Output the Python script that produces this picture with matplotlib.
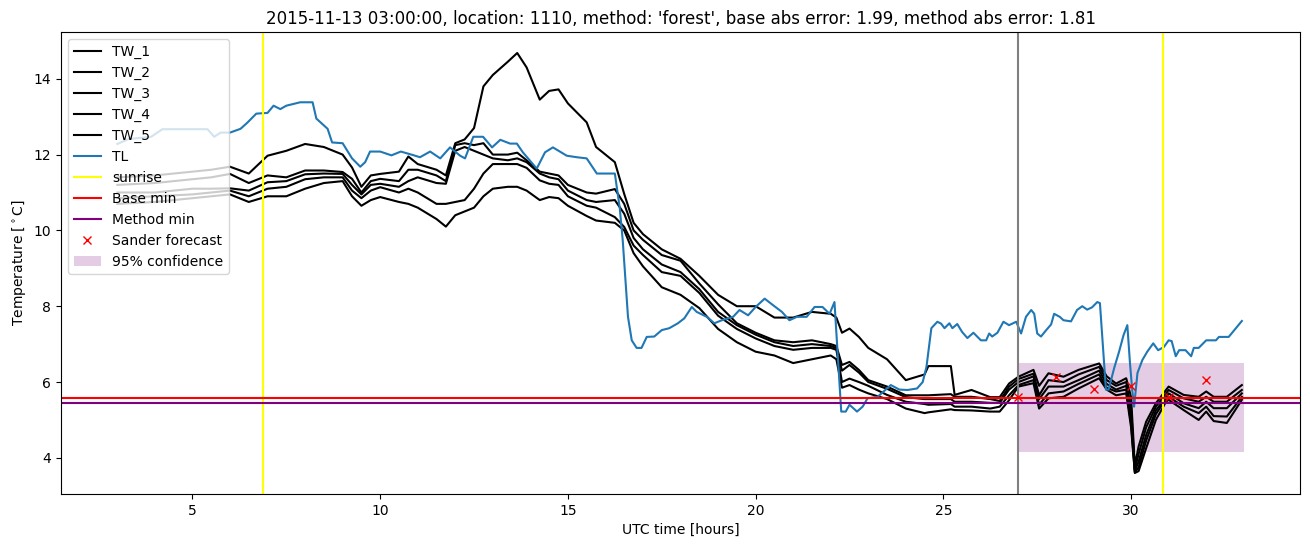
import numpy as np
import matplotlib
matplotlib.use('Agg')
import matplotlib.pyplot as plt

tw_hours = [3.0, 4.0, 5.0, 5.5, 6.0, 6.5, 7.0, 7.5, 8.0, 8.5, 9.0, 9.25, 9.5, 9.75,
            10.0, 10.5, 10.75, 11.0, 11.5, 11.75, 12.0, 12.25, 12.5, 12.75, 13.0,
            13.4, 13.65, 13.9, 14.25, 14.5, 14.75, 15.0, 15.5, 15.75, 16.25, 16.5,
            16.75, 17.0, 17.5, 18.0, 18.5, 19.0, 19.5, 20.0, 20.5, 21.0, 21.5, 22.0,
            22.15, 22.3, 22.5, 22.75, 23.0, 23.5, 24.0, 24.5, 24.6, 25.2, 25.3, 25.75,
            26.25, 26.5, 26.75, 27.0, 27.4, 27.55, 27.8, 28.2, 28.6, 29.15, 29.35,
            29.6, 29.87, 30.0, 30.1, 30.2, 30.4, 30.66, 30.93, 31.0, 31.4, 31.8,
            32.0, 32.2, 32.55, 32.95]

tw_1 = [11.4, 11.45, 11.55, 11.6, 11.68, 11.5, 11.97, 12.1, 12.28, 12.2, 12.0, 11.66,
        11.15, 11.45, 11.49, 11.55, 11.95, 11.75, 11.6, 11.45, 12.3, 12.4, 12.7, 13.8,
        14.1, 14.45, 14.68, 14.3, 13.45, 13.68, 13.72, 13.35, 12.85, 12.2, 11.8, 10.96,
        10.2, 9.9, 9.5, 9.25, 8.8, 8.3, 8.0, 8.0, 7.7, 7.7, 7.85, 7.8,
        7.7, 7.3, 7.41, 7.19, 6.9, 6.6, 6.05, 6.2, 6.42, 6.42, 5.66, 5.79,
        5.6, 5.6, 5.96, 6.14, 6.32, 5.9, 6.23, 6.14, 6.32, 6.49, 6.15,
        5.96, 6.1, 5.6, 3.8, 4.3, 4.95, 5.44, 5.79, 5.88, 5.66, 5.61,
        5.75, 5.61, 5.61, 5.92]
tw_2 = [11.2, 11.25, 11.35, 11.4, 11.49, 11.25, 11.45, 11.4, 11.58, 11.58, 11.54, 11.36,
        11.0, 11.3, 11.36, 11.3, 11.6, 11.6, 11.45, 11.3, 12.25, 12.3, 12.25, 12.3,
        12.0, 12.0, 12.05, 11.85, 11.55, 11.5, 11.45, 11.2, 11.0, 10.97, 11.09, 10.7,
        10.0, 9.75, 9.35, 9.2, 8.6, 8.05, 7.55, 7.3, 7.1, 7.05, 7.1, 7.0,
        6.95, 6.45, 6.53, 6.32, 6.05, 5.88, 5.65, 5.65, 5.65, 5.68, 5.61, 5.61,
        5.55, 5.5, 5.88, 6.08, 6.22, 5.65, 6.05, 6.0, 6.2, 6.4, 6.05,
        5.9, 6.0, 5.3, 3.7, 4.1, 4.8, 5.35, 5.7, 5.79, 5.57, 5.48,
        5.61, 5.48, 5.48, 5.79]
tw_3 = [11.0, 11.0, 11.1, 11.1, 11.11, 11.05, 11.27, 11.3, 11.48, 11.5, 11.49, 11.2,
        10.95, 11.2, 11.23, 11.15, 11.3, 11.4, 11.25, 11.23, 12.1, 12.2, 12.1, 12.0,
        11.9, 11.85, 11.9, 11.8, 11.5, 11.4, 11.35, 11.05, 10.8, 10.75, 10.8, 10.44,
        9.8, 9.5, 9.1, 8.9, 8.45, 7.85, 7.5, 7.25, 7.05, 6.95, 7.0, 6.95,
        6.9, 6.3, 6.45, 6.25, 6.0, 5.82, 5.6, 5.55, 5.55, 5.55, 5.48, 5.48,
        5.45, 5.45, 5.8, 6.0, 6.15, 5.55, 5.88, 5.88, 6.05, 6.3, 5.95,
        5.8, 5.9, 5.1, 3.65, 3.9, 4.6, 5.25, 5.6, 5.7, 5.44, 5.31,
        5.48, 5.31, 5.31, 5.7]
tw_4 = [10.85, 10.9, 10.95, 11.0, 11.05, 10.9, 11.1, 11.15, 11.35, 11.4, 11.4, 11.05,
        10.85, 11.05, 11.14, 11.0, 11.1, 11.0, 10.7, 10.7, 10.75, 10.8, 11.1, 11.5,
        11.75, 11.75, 11.75, 11.65, 11.32, 11.23, 11.2, 10.9, 10.65, 10.6, 10.35, 10.09,
        9.6, 9.35, 8.9, 8.8, 8.35, 7.75, 7.4, 7.15, 6.95, 6.85, 6.9, 6.9,
        6.85, 6.0, 6.09, 6.0, 5.9, 5.66, 5.48, 5.42, 5.4, 5.42, 5.35, 5.35,
        5.3, 5.35, 5.65, 5.92, 6.05, 5.4, 5.7, 5.75, 5.95, 6.2, 5.85,
        5.75, 5.8, 4.9, 3.62, 3.75, 4.45, 5.15, 5.56, 5.61, 5.35, 5.18,
        5.35, 5.1, 5.09, 5.61]
tw_5 = [10.7, 10.75, 10.85, 10.9, 10.95, 10.75, 10.9, 10.9, 11.1, 11.25, 11.3, 10.9,
        10.65, 10.8, 10.88, 10.75, 10.7, 10.6, 10.3, 10.1, 10.4, 10.5, 10.6, 10.9,
        11.1, 11.15, 11.15, 11.05, 10.8, 10.88, 10.85, 10.65, 10.38, 10.26, 10.2, 10.0,
        9.4, 9.05, 8.5, 8.3, 7.95, 7.4, 7.05, 6.8, 6.7, 6.5, 6.6, 6.7,
        6.6, 5.85, 5.92, 5.8, 5.7, 5.55, 5.3, 5.18, 5.2, 5.28, 5.26, 5.25,
        5.22, 5.22, 5.52, 5.88, 5.97, 5.3, 5.57, 5.61, 5.83, 6.1, 5.8,
        5.65, 5.7, 4.8, 3.6, 3.65, 4.25, 5.0, 5.48, 5.53, 5.26, 5.0,
        5.22, 4.97, 4.92, 5.53]

# air temperature (TL)
tl_hours = [3.0, 3.3, 3.9, 4.2, 5.4, 5.58, 5.75, 6.0, 6.28, 6.46, 6.7, 7.0, 7.16, 7.34,
            7.5, 7.87, 8.2, 8.3, 8.6, 8.72, 9.0, 9.25, 9.47, 9.6, 9.73, 10.0, 10.3,
            10.55, 10.9, 11.06, 11.33, 11.6, 11.86, 12.13, 12.26, 12.48, 12.74, 12.98,
            13.2, 13.46, 13.64, 13.8, 14.17, 14.39, 14.6, 14.97, 15.24, 15.5, 15.77,
            16.25, 16.38, 16.46, 16.6, 16.7, 16.83, 16.96, 17.1, 17.3, 17.5, 17.7,
            17.93, 18.1, 18.3, 18.43, 18.7, 18.9, 19.1, 19.4, 19.57, 19.8, 20.0,
            20.24, 20.46, 20.7, 20.9, 21.1, 21.36, 21.57, 21.78, 21.97, 22.1, 22.18,
            22.28, 22.4, 22.5, 22.7, 22.85, 22.98, 23.25, 23.6, 23.83, 24.05, 24.3,
            24.45, 24.55, 24.68, 24.84, 24.94, 25.03, 25.16, 25.24, 25.37, 25.5,
            25.64, 25.8, 26.0, 26.14, 26.22, 26.3, 26.44, 26.6, 26.75, 26.94, 27.07,
            27.2, 27.34, 27.42, 27.5, 27.6, 27.74, 27.87, 27.95, 28.1, 28.2, 28.4,
            28.56, 28.7, 28.83, 28.96, 29.1, 29.17, 29.24, 29.33, 29.4, 29.55, 29.68,
            29.8, 29.9, 29.97, 30.03, 30.08, 30.17, 30.3, 30.43, 30.59, 30.72, 30.87,
            31.0, 31.08, 31.19, 31.28, 31.45, 31.6, 31.67, 31.8, 32.0, 32.26, 32.34,
            32.6, 32.95]
tl = [12.28, 12.41, 12.47, 12.67, 12.67, 12.47, 12.58, 12.58, 12.68, 12.84, 13.08, 13.1,
      13.29, 13.2, 13.29, 13.38, 13.38, 12.95, 12.68, 12.32, 12.3, 11.9, 11.68, 11.8,
      12.08, 12.08, 11.98, 12.08, 11.98, 11.93, 12.08, 11.9, 12.19, 11.97, 11.9, 12.47,
      12.47, 12.19, 12.39, 12.29, 12.29, 12.06, 11.63, 12.06, 12.19, 11.97, 11.93, 11.9,
      11.5, 11.5, 10.6, 9.74, 7.72, 7.1, 6.9, 6.9, 7.19, 7.2, 7.37, 7.42, 7.55, 7.68,
      7.98, 7.85, 7.72, 7.55, 7.63, 7.72, 7.9, 7.76, 7.98, 8.2, 8.03, 7.85, 7.63, 7.72,
      7.72, 7.98, 7.98, 7.8, 8.11, 6.84, 5.22, 5.22, 5.4, 5.22, 5.35, 5.57, 5.61, 5.92,
      5.8, 5.79, 5.83, 6.0, 6.4, 7.42, 7.59, 7.54, 7.42, 7.55, 7.42, 7.53, 7.32, 7.16,
      7.3, 7.1, 7.1, 7.28, 7.2, 7.3, 7.59, 7.5, 7.59, 7.28, 7.72, 7.9, 7.8, 7.28, 7.2,
      7.37, 7.52, 7.8, 7.72, 7.63, 7.6, 7.9, 8.0, 7.91, 7.97, 8.11, 8.08, 7.1, 5.8, 5.8,
      6.37, 6.8, 7.24, 7.5, 6.5, 5.79, 5.35, 6.24, 6.58, 6.8, 7.02, 6.84, 6.92, 7.1,
      7.08, 6.68, 6.84, 6.84, 6.68, 6.9, 6.9, 7.1, 7.1, 7.19, 7.19, 7.61]

sunrise = [6.89, 30.85]
forecast_start = 27.0
base_min = 5.59
method_min = 5.45

sander_hours = [27, 28, 29, 30, 31, 32]
sander_temp = [5.6, 6.14, 5.82, 5.9, 5.6, 6.05]

conf_hours = [27, 33]
conf_low = 4.16
conf_high = 6.5

fig, ax = plt.subplots(figsize=(13.1, 5.47), dpi=100)
fig.subplots_adjust(left=0.0466, right=0.9924, top=0.9415, bottom=0.0969)

for i, tw in enumerate([tw_1, tw_2, tw_3, tw_4, tw_5]):
    ax.plot(tw_hours, tw, color='k', label='TW_%d' % (i + 1))
ax.plot(tl_hours, tl, color='C0', label='TL')

ax.axvline(sunrise[0], color='yellow', label='sunrise')
ax.axvline(sunrise[1], color='yellow')
ax.axvline(forecast_start, color='grey')
ax.axhline(base_min, color='red', label='Base min')
ax.axhline(method_min, color='purple', label='Method min')
ax.plot(sander_hours, sander_temp, 'x', color='red', label='Sander forecast')
ax.fill_between(conf_hours, conf_low, conf_high, color='purple', alpha=0.2,
                linewidth=0, label='95% confidence')

ax.set_xlabel('UTC time [hours]')
ax.set_ylabel(r'Temperature [$^\circ$C]')
ax.set_title("2015-11-13 03:00:00, location: 1110, method: 'forest', "
             "base abs error: 1.99, method abs error: 1.81")
ax.legend(loc='upper left')

plt.savefig('out.png', dpi=100)
